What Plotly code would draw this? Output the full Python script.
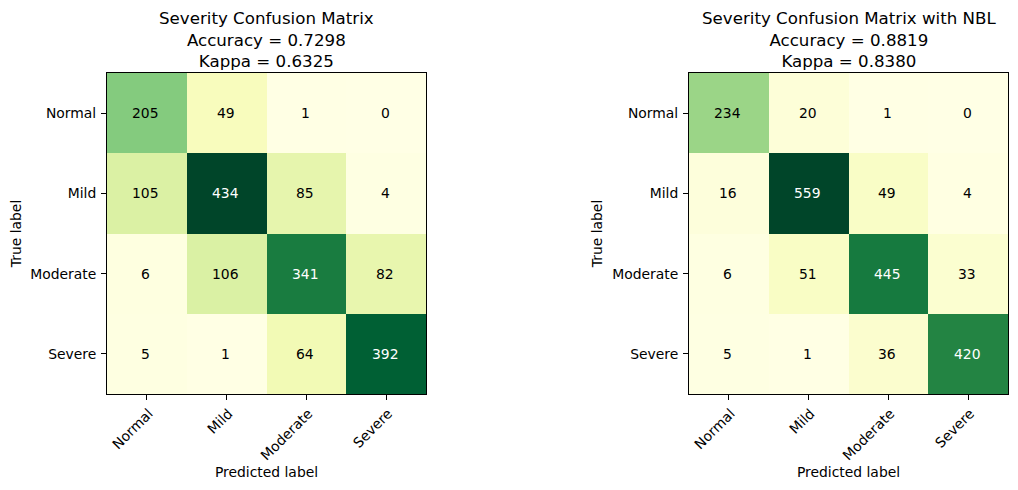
import plotly.graph_objects as go

labels = ["Normal", "Mild", "Moderate", "Severe"]
matrix_a = [[205, 49, 1, 0], [105, 434, 85, 4], [6, 106, 341, 82], [5, 1, 64, 392]]
matrix_b = [[234, 20, 1, 0], [16, 559, 49, 4], [6, 51, 445, 33], [5, 1, 36, 420]]
title_a = "Severity Confusion Matrix<br>Accuracy = 0.7298<br>Kappa = 0.6325"
title_b = "Severity Confusion Matrix with NBL<br>Accuracy = 0.8819<br>Kappa = 0.8380"

YLGN = [[0, "#ffffe5"], [0.125, "#f7fcb9"], [0.25, "#d9f0a3"], [0.375, "#addd8e"], [0.5, "#78c679"],
        [0.625, "#41ab5d"], [0.75, "#238443"], [0.875, "#006837"], [1, "#004529"]]
W, H = 1002, 474
OFF = 8
FONT = "DejaVu Sans"
fs = 13.9
fig = go.Figure()
panels = [(matrix_a, title_a, 107 - OFF, 426 - OFF, "", "x", "y"), (matrix_b, title_b, 689 - OFF, 1008 - OFF, "2", "x2", "y2")]
top, bottom = 73 - OFF, 394 - OFF
for m, title, x0, x1, suf, xa, ya in panels:
    mx = max(max(r) for r in m)
    fig.add_trace(go.Heatmap(z=m, x=labels, y=labels, xaxis=xa, yaxis=ya, colorscale=YLGN, zmin=0, zmax=mx,
                             showscale=False, xgap=0, ygap=0, hoverinfo="z"))
    for i, row in enumerate(m):
        for j, v in enumerate(row):
            fig.add_annotation(x=labels[j], y=labels[i], xref=xa, yref=ya, text=str(v), showarrow=False, xshift=-1,
                               font=dict(family=FONT, size=fs, color="white" if v > mx / 2 else "black"))
    fig.update_layout(**{
        "xaxis" + suf: dict(domain=[x0 / W, x1 / W], side="bottom", tickangle=-45, showgrid=False, zeroline=False,
                            mirror=True, showline=True, linecolor="black", linewidth=1, ticks="outside",
                            ticklen=5, tickcolor="black", tickfont=dict(family=FONT, size=fs, color="black"),
                            ticklabelshift=2,
                            title=dict(text="Predicted label", font=dict(family=FONT, size=fs, color="black"), standoff=4),
                            anchor=ya, constrain="domain"),
        "yaxis" + suf: dict(domain=[1 - bottom / H, 1 - top / H], autorange="reversed", showgrid=False, zeroline=False,
                            mirror=True, showline=True, linecolor="black", linewidth=1, ticks="outside",
                            ticklen=5, tickcolor="black", tickfont=dict(family=FONT, size=fs, color="black"),
                            ticklabelstandoff=2,
                            title=dict(text="True label", font=dict(family=FONT, size=fs, color="black"), standoff=6),
                            anchor=xa),
    })
    fig.add_annotation(x=(x0 + x1) / 2 / W, y=1 - (top - 0.5) / H, xref="paper", yref="paper", text=title, showarrow=False,
                       xanchor="center", yanchor="bottom", align="center",
                       font=dict(family=FONT, size=16.67, color="black"))
fig.update_layout(width=W, height=H, margin=dict(l=0, r=0, t=0, b=0), paper_bgcolor="white", plot_bgcolor="white")
fig.write_html("out.html")
